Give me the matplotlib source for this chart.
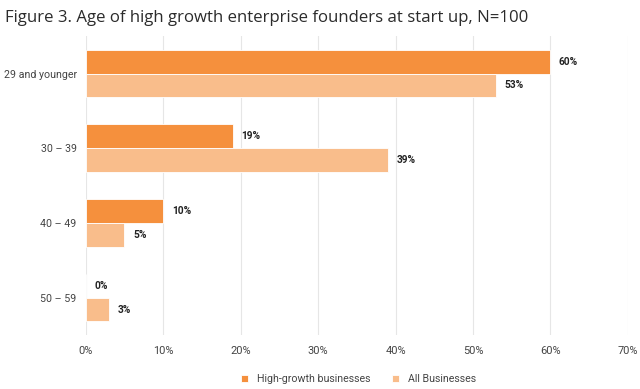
import matplotlib
matplotlib.use("Agg")
import matplotlib.pyplot as plt
import numpy as np

categories = ["29 and younger", "30 – 39", "40 – 49", "50 – 59"]
high_growth = [60, 19, 10, 0]
all_business = [53, 39, 5, 3]
series_names = ["High-growth businesses", "All Businesses"]
xticks = [0, 10, 20, 30, 40, 50, 60, 70]

c_dark = "#F5903D"
c_light = "#F9BD8B"

plt.rcParams['font.family'] = ['Roboto', 'DejaVu Sans']

fig = plt.figure(figsize=(6.4, 3.89), dpi=100)
ax = fig.add_axes([0.134, 0.139, 0.847, 0.768])

y = np.arange(len(categories))
h = 0.32
ax.barh(y - h/2, high_growth, height=h, color=c_dark, edgecolor="white", linewidth=0.6, label=series_names[0], zorder=3)
ax.barh(y + h/2, all_business, height=h, color=c_light, edgecolor="white", linewidth=0.6, label=series_names[1], zorder=3)

for yi, v in zip(y, high_growth):
    ax.text(v + 1.1, yi - h/2, f"{v}%", va="center", ha="left", fontsize=7.3, fontweight="bold", color="#222222")
for yi, v in zip(y, all_business):
    ax.text(v + 1.1, yi + h/2, f"{v}%", va="center", ha="left", fontsize=7.3, fontweight="bold", color="#222222")

ax.set_ylim(3.5, -0.5)
ax.set_xlim(0, 70)
ax.set_yticks(y)
ax.set_yticklabels(categories, fontsize=7.7, color="#444444")
ax.set_xticks(xticks)
ax.set_xticklabels([f"{t}%" for t in xticks], fontsize=7.9, color="#444444")
ax.tick_params(axis="y", length=0, pad=6.5)
ax.tick_params(axis="x", length=0, pad=8)
ax.grid(axis="x", color="#e6e6e6", linewidth=0.8, zorder=0)
for s in ax.spines.values():
    s.set_visible(False)

fig.text(0.008, 0.955, "Figure 3. Age of high growth enterprise founders at start up, N=100",
         fontsize=12.1, family=['Open Sans', 'DejaVu Sans'], color="#2b2b2b", va="center", ha="left")

leg = fig.legend(loc="center", bbox_to_anchor=(0.56, 0.025), ncol=2, frameon=False,
                 fontsize=7.7, handlelength=0.7, handleheight=0.7, columnspacing=2.0, handletextpad=0.8)
for t in leg.get_texts():
    t.set_color("#444444")

fig.savefig("out.png", dpi=100)
